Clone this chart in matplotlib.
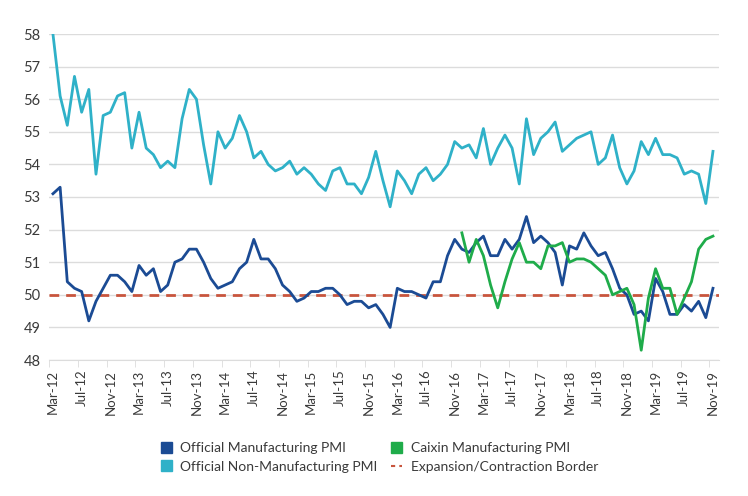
import pandas as pd
import matplotlib
matplotlib.use("Agg")
import matplotlib.pyplot as plt
from matplotlib.patches import Patch
from matplotlib.lines import Line2D

# monthly, Mar-12 .. Nov-19
months = pd.date_range("2012-03-01", "2019-11-01", freq="MS")

official_mfg = [
    53.1, 53.3, 50.4, 50.2, 50.1, 49.2, 49.8, 50.2, 50.6, 50.6,
    50.4, 50.1, 50.9, 50.6, 50.8, 50.1, 50.3, 51.0, 51.1, 51.4, 51.4, 51.0,
    50.5, 50.2, 50.3, 50.4, 50.8, 51.0, 51.7, 51.1, 51.1, 50.8, 50.3, 50.1,
    49.8, 49.9, 50.1, 50.1, 50.2, 50.2, 50.0, 49.7, 49.8, 49.8, 49.6, 49.7,
    49.4, 49.0, 50.2, 50.1, 50.1, 50.0, 49.9, 50.4, 50.4, 51.2, 51.7, 51.4,
    51.3, 51.6, 51.8, 51.2, 51.2, 51.7, 51.4, 51.7, 52.4, 51.6, 51.8, 51.6,
    51.3, 50.3, 51.5, 51.4, 51.9, 51.5, 51.2, 51.3, 50.8, 50.2, 50.0, 49.4,
    49.5, 49.2, 50.5, 50.1, 49.4, 49.4, 49.7, 49.5, 49.8, 49.3, 50.2,
]

official_nonmfg = [
    58.0, 56.1, 55.2, 56.7, 55.6, 56.3, 53.7, 55.5, 55.6, 56.1,
    56.2, 54.5, 55.6, 54.5, 54.3, 53.9, 54.1, 53.9, 55.4, 56.3, 56.0, 54.6,
    53.4, 55.0, 54.5, 54.8, 55.5, 55.0, 54.2, 54.4, 54.0, 53.8, 53.9, 54.1,
    53.7, 53.9, 53.7, 53.4, 53.2, 53.8, 53.9, 53.4, 53.4, 53.1, 53.6, 54.4,
    53.5, 52.7, 53.8, 53.5, 53.1, 53.7, 53.9, 53.5, 53.7, 54.0, 54.7, 54.5,
    54.6, 54.2, 55.1, 54.0, 54.5, 54.9, 54.5, 53.4, 55.4, 54.3, 54.8, 55.0,
    55.3, 54.4, 54.6, 54.8, 54.9, 55.0, 54.0, 54.2, 54.9, 53.9, 53.4, 53.8,
    54.7, 54.3, 54.8, 54.3, 54.3, 54.2, 53.7, 53.8, 53.7, 52.8, 54.4,
]

# Caixin shown from Dec-16
caixin_start = 57
caixin_mfg = [
    51.9,
    51.0, 51.7, 51.2, 50.3, 49.6, 50.4, 51.1, 51.6, 51.0, 51.0, 50.8, 51.5,
    51.5, 51.6, 51.0, 51.1, 51.1, 51.0, 50.8, 50.6, 50.0, 50.1, 50.2, 49.7,
    48.3, 49.9, 50.8, 50.2, 50.2, 49.4, 49.9, 50.4, 51.4, 51.7, 51.8,
]

border = 50

c_mfg = "#1b4b94"
c_nonmfg = "#2fb1c8"
c_caixin = "#1fac4a"
c_border = "#c8553d"
c_grid = "#dcdcdc"
c_text = "#3a3a3a"

plt.rcParams["font.family"] = ["Lato", "DejaVu Sans"]

x = list(range(len(months)))
xc = list(range(caixin_start, caixin_start + len(caixin_mfg)))

fig = plt.figure(figsize=(7.48, 4.96), dpi=100)
ax = fig.add_axes([49 / 748, 1 - 360 / 496, 670 / 748, 326 / 496])

ax.axhline(border, color=c_border, lw=2.0, ls=(0, (3.5, 2.5)), zorder=2)
ax.plot(x, official_nonmfg, color=c_nonmfg, lw=2.0, zorder=3)
ax.plot(x, official_mfg, color=c_mfg, lw=2.0, zorder=4)
ax.plot(xc, caixin_mfg, color=c_caixin, lw=2.0, zorder=5)

ax.set_ylim(48, 58)
ax.set_xlim(-0.55, len(x) - 1 + 0.84)
ax.set_yticks(range(48, 59))
ax.grid(axis="y", color=c_grid, lw=1)
ax.set_axisbelow(True)

# labels on the month, tick marks on the boundary just before it
tick_pos = x[::4]
ax.set_xticks(tick_pos)
ax.set_xticklabels([months[i].strftime("%b-%y") for i in tick_pos], rotation=90)
ax.set_xticks([i - 0.5 for i in tick_pos], minor=True)

for s in ["top", "right", "left"]:
    ax.spines[s].set_visible(False)
ax.spines["bottom"].set_color(c_grid)
ax.tick_params(axis="x", which="major", length=0, labelcolor=c_text, labelsize=9.5, pad=7)
ax.tick_params(axis="x", which="minor", colors=c_grid, length=5)
ax.tick_params(axis="y", length=0, labelcolor=c_text, labelsize=10.5, pad=6)

handles = [
    Patch(color=c_mfg),
    Patch(color=c_nonmfg),
    Patch(color=c_caixin),
    Line2D([0], [0], color=c_border, lw=1.5, ls=(0, (2, 2))),
]
labels = [
    "Official Manufacturing PMI",
    "Official Non-Manufacturing PMI",
    "Caixin Manufacturing PMI",
    "Expansion/Contraction Border",
]
fig.legend(handles, labels, ncol=2, loc="center left", bbox_to_anchor=(148 / 748, 0.078),
           frameon=False, fontsize=10, labelcolor=c_text, handlelength=0.8,
           handleheight=0.8, columnspacing=1.0, handletextpad=0.6, labelspacing=0.45)

fig.savefig("out.png", dpi=100)
